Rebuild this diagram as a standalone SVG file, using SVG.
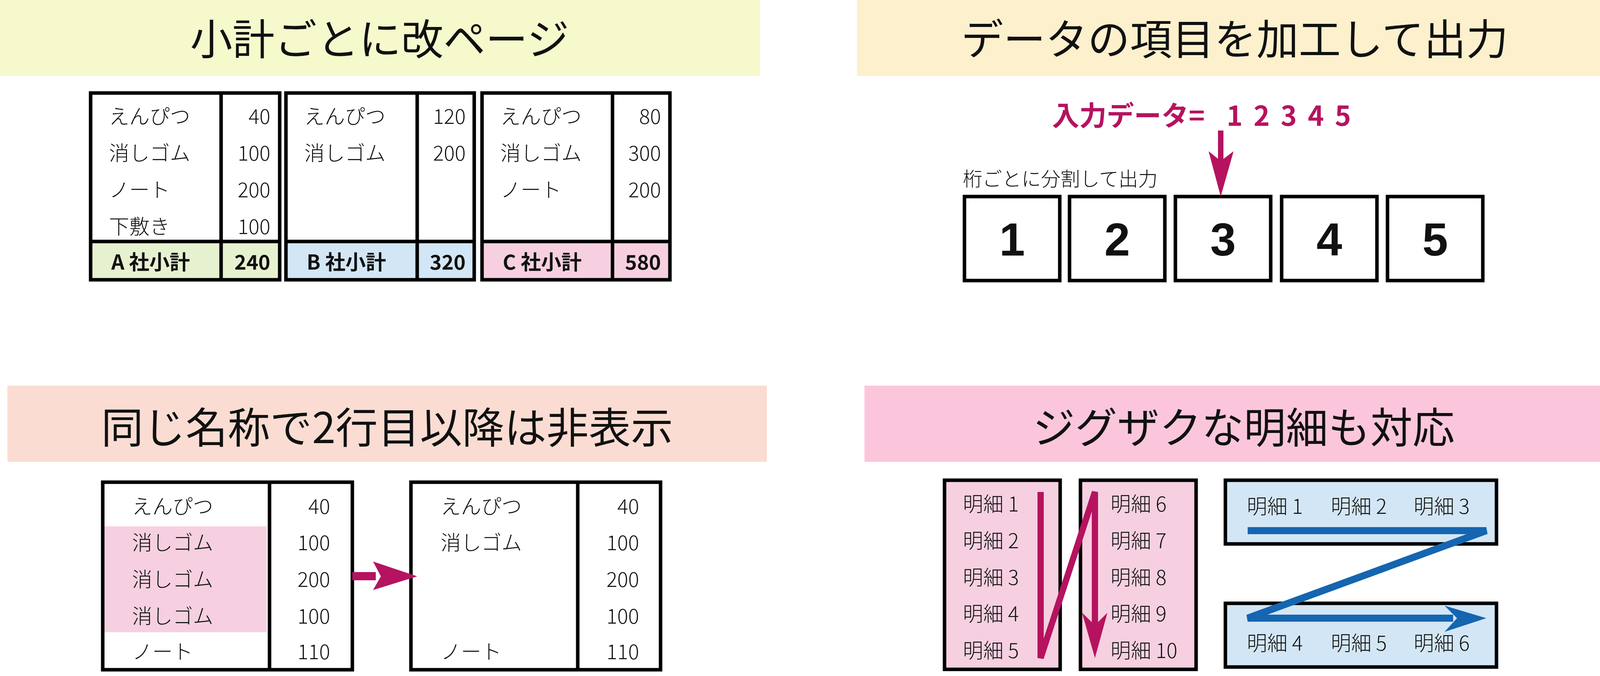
<svg xmlns="http://www.w3.org/2000/svg" width="4159" height="1730" viewBox="0 0 4159 1730">
<style>
text{font-family:"Noto Sans CJK JP","Noto Sans",sans-serif;fill:#111}
.t{font-size:108px;text-anchor:middle}
.c{font-size:52px;font-weight:300}
.n{font-size:52px;font-weight:300;text-anchor:end}
.b{font-size:52px;font-weight:700}
.bn{font-size:52px;font-weight:700;text-anchor:end}
.box{fill:none;stroke:#000;stroke-width:9}
.ln{stroke:#000;stroke-width:9}
.big{font-family:"Liberation Sans",Arial,sans-serif;font-size:118px;font-weight:700;text-anchor:middle}
</style>

<g id="p1">
<rect x="0" y="0" width="1946" height="194" fill="#f6f9cc"/>
<text class="t" x="972" y="140">小計ごとに改ページ</text>
<g id="tA">
<rect x="232" y="618" width="484" height="101" fill="#e6f1d0"/>
<rect class="box" x="232" y="238" width="484" height="478"/>
<line class="ln" x1="566" y1="238" x2="566" y2="716"/><line class="ln" x1="232" y1="618" x2="716" y2="618"/>
<text class="c" x="279" y="317">えんぴつ</text><text class="n" x="692" y="317">40</text>
<text class="c" x="279" y="411">消しゴム</text><text class="n" x="692" y="411">100</text>
<text class="c" x="279" y="505">ノート</text><text class="n" x="692" y="505">200</text>
<text class="c" x="279" y="599">下敷き</text><text class="n" x="692" y="599">100</text>
<text class="b" x="285" y="690">A 社小計</text><text class="bn" x="692" y="690">240</text>
</g>
<g id="tB">
<rect x="732" y="618" width="482" height="101" fill="#d3e6f5"/>
<rect class="box" x="732" y="238" width="482" height="478"/>
<line class="ln" x1="1068" y1="238" x2="1068" y2="716"/><line class="ln" x1="732" y1="618" x2="1214" y2="618"/>
<text class="c" x="779" y="317">えんぴつ</text><text class="n" x="1192" y="317">120</text>
<text class="c" x="779" y="411">消しゴム</text><text class="n" x="1192" y="411">200</text>
<text class="b" x="785" y="690">B 社小計</text><text class="bn" x="1192" y="690">320</text>
</g>
<g id="tC">
<rect x="1234" y="618" width="481" height="101" fill="#f6d0e0"/>
<rect class="box" x="1234" y="238" width="481" height="478"/>
<line class="ln" x1="1568" y1="238" x2="1568" y2="716"/><line class="ln" x1="1234" y1="618" x2="1715" y2="618"/>
<text class="c" x="1281" y="317">えんぴつ</text><text class="n" x="1692" y="317">80</text>
<text class="c" x="1281" y="411">消しゴム</text><text class="n" x="1692" y="411">300</text>
<text class="c" x="1281" y="505">ノート</text><text class="n" x="1692" y="505">200</text>
<text class="b" x="1287" y="690">C 社小計</text><text class="bn" x="1692" y="690">580</text>
</g>
</g>

<g id="p2">
<rect x="2194" y="0" width="1946" height="194" fill="#fdf0cd"/>
<text class="t" x="3161" y="140">データの項目を加工して出力</text>
<text x="2693" y="322" style="font-size:70px;font-weight:700;fill:#b5135f">入力データ=<tspan x="3140" style="letter-spacing:28px">12345</tspan></text>
<text x="2465" y="476" style="font-size:50px;font-weight:300">桁ごとに分割して出力</text>
<g id="d1"><rect class="box" x="2469" y="503" width="244" height="215"/><text class="big" x="2591" y="654">1</text></g>
<g id="d2"><rect class="box" x="2738" y="503" width="244" height="215"/><text class="big" x="2860" y="654">2</text></g>
<g id="d3"><rect class="box" x="3009" y="503" width="244" height="215"/><text class="big" x="3131" y="654">3</text></g>
<g id="d4"><rect class="box" x="3281" y="503" width="244" height="215"/><text class="big" x="3403" y="654">4</text></g>
<g id="d5"><rect class="box" x="3552" y="503" width="244" height="215"/><text class="big" x="3674" y="654">5</text></g>
</g>

<g id="p3">
<rect x="19" y="987" width="1944" height="195" fill="#fadcd2"/>
<text class="t" x="991" y="1134">同じ名称で2行目以降は非表示</text>
<g id="tL">
<rect x="265" y="1347" width="418" height="271" fill="#f6d0e0"/>
<rect class="box" x="263" y="1234" width="639" height="480"/>
<line class="ln" x1="690" y1="1234" x2="690" y2="1714"/>
<text class="c" x="338" y="1315">えんぴつ</text><text class="n" x="845" y="1315">40</text>
<text class="c" x="338" y="1408">消しゴム</text><text class="n" x="845" y="1408">100</text>
<text class="c" x="338" y="1502">消しゴム</text><text class="n" x="845" y="1502">200</text>
<text class="c" x="338" y="1596">消しゴム</text><text class="n" x="845" y="1596">100</text>
<text class="c" x="338" y="1687">ノート</text><text class="n" x="845" y="1687">110</text>
</g>
<g id="tR">
<rect class="box" x="1052" y="1234" width="639" height="480"/>
<line class="ln" x1="1479" y1="1234" x2="1479" y2="1714"/>
<text class="c" x="1128" y="1315">えんぴつ</text><text class="n" x="1636" y="1315">40</text>
<text class="c" x="1128" y="1408">消しゴム</text><text class="n" x="1636" y="1408">100</text>
<text class="n" x="1636" y="1502">200</text>
<text class="n" x="1636" y="1596">100</text>
<text class="c" x="1128" y="1687">ノート</text><text class="n" x="1636" y="1687">110</text>
</g>
</g>

<g id="p4">
<rect x="2213" y="987" width="1946" height="195" fill="#fbc6dc"/>
<text class="t" x="3184" y="1134">ジグザクな明細も対応</text>
<g id="z1"><rect x="2418" y="1229" width="296" height="484" fill="#f6d0e0" stroke="#000" stroke-width="9"/>
<text class="c" x="2465" y="1309">明細 1</text><text class="c" x="2465" y="1403">明細 2</text><text class="c" x="2465" y="1497">明細 3</text><text class="c" x="2465" y="1590">明細 4</text><text class="c" x="2465" y="1684">明細 5</text></g>
<g id="z2"><rect x="2766" y="1229" width="296" height="484" fill="#f6d0e0" stroke="#000" stroke-width="9"/>
<text class="c" x="2843" y="1309">明細 6</text><text class="c" x="2843" y="1403">明細 7</text><text class="c" x="2843" y="1497">明細 8</text><text class="c" x="2843" y="1590">明細 9</text><text class="c" x="2843" y="1684">明細 10</text></g>
<g id="z3"><rect x="3137" y="1229" width="694" height="163" fill="#d3e6f5" stroke="#000" stroke-width="9"/>
<text class="c" x="3192" y="1315">明細 1</text><text class="c" x="3407" y="1315">明細 2</text><text class="c" x="3619" y="1315">明細 3</text></g>
<g id="z4"><rect x="3137" y="1544" width="694" height="163" fill="#d3e6f5" stroke="#000" stroke-width="9"/>
<text class="c" x="3192" y="1665">明細 4</text><text class="c" x="3407" y="1665">明細 5</text><text class="c" x="3619" y="1665">明細 6</text></g>
</g>

<g id="connectors">
<line x1="3125" y1="334" x2="3125" y2="440" stroke="#b5135f" stroke-width="14"/>
<path d="M3094,387 L3125,412 L3158,387 L3125,503 z" fill="#b5135f"/>
<rect x="902" y="1464" width="60" height="21" fill="#b5135f"/>
<path d="M955,1437 L1068,1475 L955,1510 L975,1475 z" fill="#b5135f"/>
<path d="M2664,1259 L2664,1684 L2803,1259 L2803,1600" fill="none" stroke="#b5135f" stroke-width="16" stroke-linejoin="miter"/>
<path d="M2770,1568 L2803,1600 L2835,1568 L2803,1684 z" fill="#b5135f"/>
<path d="M3194,1358 L3805,1358 L3194,1582 L3720,1582" fill="none" stroke="#1565b0" stroke-width="18" stroke-linejoin="miter"/>
<path d="M3698,1550 L3730,1582 L3698,1617 L3805,1582 z" fill="#1565b0"/>
</g>
</svg>
